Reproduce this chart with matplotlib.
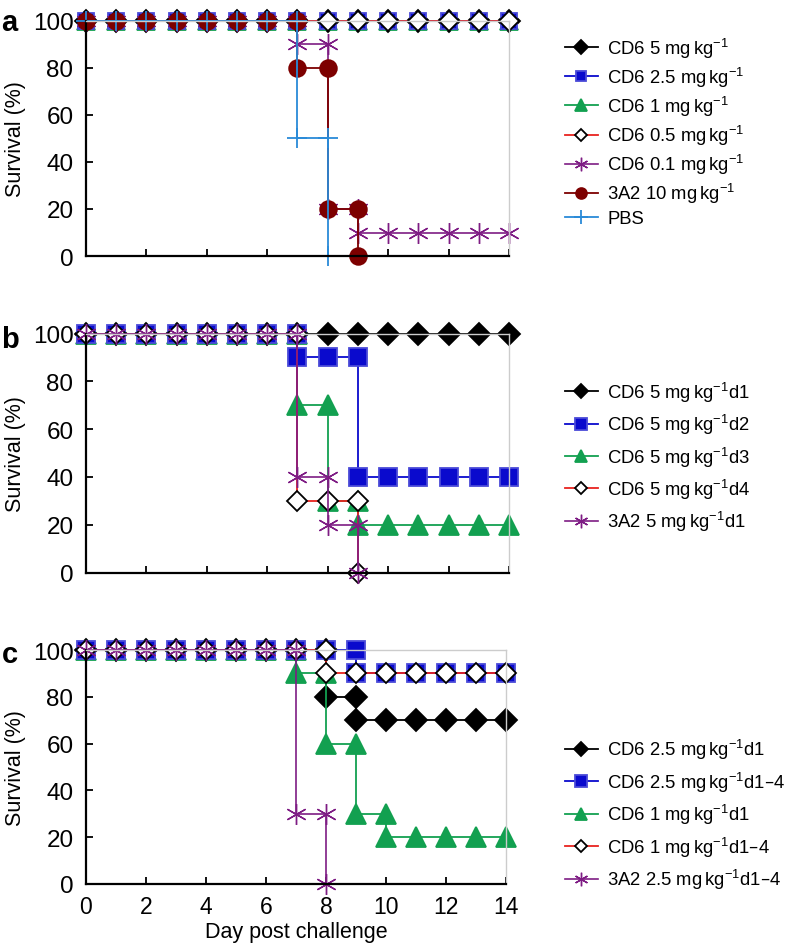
import matplotlib
matplotlib.use("Agg")
import matplotlib.pyplot as plt

plt.rcParams['font.family'] = ['Liberation Sans', 'DejaVu Sans']
plt.rcParams['mathtext.default'] = 'regular'

# ---- panel a ----
a_days = [0, 1, 2, 3, 4, 5, 6, 7, 8, 9, 10, 11, 12, 13, 14]
a_cd6_5 = [100, 100, 100, 100, 100, 100, 100, 100, 100, 100, 100, 100, 100, 100, 100]
a_cd6_25 = [100, 100, 100, 100, 100, 100, 100, 100, 100, 100, 100, 100, 100, 100, 100]
a_cd6_1 = [100, 100, 100, 100, 100, 100, 100, 100, 100, 100, 100, 100, 100, 100, 100]
a_cd6_05 = [100, 100, 100, 100, 100, 100, 100, 100, 100, 100, 100, 100, 100, 100, 100]
a_cd6_01_days = [0, 1, 2, 3, 4, 5, 6, 7, 7, 8, 8, 9, 9, 10, 11, 12, 13, 14]
a_cd6_01 = [100, 100, 100, 100, 100, 100, 100, 100, 90, 90, 20, 20, 10, 10, 10, 10, 10, 10]
a_3a2_days = [0, 1, 2, 3, 4, 5, 6, 7, 7, 8, 8, 9, 9]
a_3a2 = [100, 100, 100, 100, 100, 100, 100, 100, 80, 80, 20, 20, 0]
a_pbs_days = [0, 1, 2, 3, 4, 5, 6, 7, 7, 8, 8]
a_pbs = [100, 100, 100, 100, 100, 100, 100, 100, 50, 50, 0]

# ---- panel b ----
b_d1_days = [0, 1, 2, 3, 4, 5, 6, 7, 8, 9, 10, 11, 12, 13, 14]
b_d1 = [100, 100, 100, 100, 100, 100, 100, 100, 100, 100, 100, 100, 100, 100, 100]
b_d2_days = [0, 1, 2, 3, 4, 5, 6, 7, 7, 8, 9, 9, 10, 11, 12, 13, 14]
b_d2 = [100, 100, 100, 100, 100, 100, 100, 100, 90, 90, 90, 40, 40, 40, 40, 40, 40]
b_d3_days = [0, 1, 2, 3, 4, 5, 6, 7, 7, 8, 8, 9, 9, 10, 11, 12, 13, 14]
b_d3 = [100, 100, 100, 100, 100, 100, 100, 100, 70, 70, 30, 30, 20, 20, 20, 20, 20, 20]
b_d4_days = [0, 1, 2, 3, 4, 5, 6, 7, 7, 8, 9, 9]
b_d4 = [100, 100, 100, 100, 100, 100, 100, 100, 30, 30, 30, 0]
b_3a2_days = [0, 1, 2, 3, 4, 5, 6, 7, 7, 8, 8, 9, 9]
b_3a2 = [100, 100, 100, 100, 100, 100, 100, 100, 40, 40, 20, 20, 0]

# ---- panel c ----
c_25d1_days = [0, 1, 2, 3, 4, 5, 6, 7, 8, 8, 9, 9, 10, 11, 12, 13, 14]
c_25d1 = [100, 100, 100, 100, 100, 100, 100, 100, 100, 80, 80, 70, 70, 70, 70, 70, 70]
c_25d14_days = [0, 1, 2, 3, 4, 5, 6, 7, 8, 9, 9, 10, 11, 12, 13, 14]
c_25d14 = [100, 100, 100, 100, 100, 100, 100, 100, 100, 100, 90, 90, 90, 90, 90, 90]
c_1d1_days = [0, 1, 2, 3, 4, 5, 6, 7, 7, 8, 8, 9, 9, 10, 10, 11, 12, 13, 14]
c_1d1 = [100, 100, 100, 100, 100, 100, 100, 100, 90, 90, 60, 60, 30, 30, 20, 20, 20, 20, 20]
c_1d14_days = [0, 1, 2, 3, 4, 5, 6, 7, 8, 8, 9, 10, 11, 12, 13, 14]
c_1d14 = [100, 100, 100, 100, 100, 100, 100, 100, 100, 90, 90, 90, 90, 90, 90, 90]
c_3a2_days = [0, 1, 2, 3, 4, 5, 6, 7, 7, 8, 8]
c_3a2 = [100, 100, 100, 100, 100, 100, 100, 100, 30, 30, 0]

KG = r' mg$\,$kg$^{-1}$'

# colours / markers
BLACK = '#000000'
BLUE = '#0a0acd'
GREEN = '#12a050'
RED = '#e8231f'
PURPLE = '#7e1c84'
DRED = '#7d0000'
LBLUE = '#2a8ad8'
AST = (6, 2, 0)

fig = plt.figure(figsize=(7.88, 9.45), dpi=100)

def style_ax(ax, xlabels=False):
    ax.set_xlim(0, 14)
    ax.set_ylim(0, 100)
    ax.set_xticks([0, 2, 4, 6, 8, 10, 12, 14])
    ax.set_yticks([0, 20, 40, 60, 80, 100])
    ax.tick_params(direction='in', length=5, width=1.3, pad=8)
    ax.tick_params(axis='x', labelsize=16.5)
    ax.tick_params(axis='y', labelsize=17.5, pad=9)
    if not xlabels:
        ax.set_xticklabels([])
    for s in ['top', 'right']:
        ax.spines[s].set_color('#cccccc')
        ax.spines[s].set_linewidth(1.0)
    for s in ['left', 'bottom']:
        ax.spines[s].set_linewidth(1.6)
    ax.set_ylabel('Survival (%)', fontsize=15.5, labelpad=5)

def curve(ax, x, y, color, marker, label, mfc=None, mec=None, ms=11, lw=1.3, mew=1.3):
    ax.plot(x, y, color=color, marker=marker, ms=ms, lw=lw, label=label,
            mfc=mfc if mfc else color, mec=mec if mec else color,
            mew=mew, clip_on=False)

def add_legend(ax, order, y, spacing):
    h, l = ax.get_legend_handles_labels()
    ax.legend([h[i] for i in order], [l[i] for i in order], loc='upper left',
              bbox_to_anchor=(0.705, y), bbox_transform=fig.transFigure,
              frameon=False, fontsize=13.3, markerscale=0.65, handlelength=1.8,
              handletextpad=0.5, labelspacing=spacing, borderpad=0)

# panel a
axa = fig.add_axes([0.109, 0.728, 0.537, 0.249])
curve(axa, a_days, a_cd6_5, BLACK, 'D', 'CD6 5' + KG, ms=11)
curve(axa, a_days, a_cd6_1, GREEN, '^', 'CD6 1' + KG, ms=13)
curve(axa, a_days, a_cd6_25, BLUE, 's', 'CD6 2.5' + KG, mec='#4a4ad8', ms=12)
curve(axa, a_days, a_cd6_05, RED, 'D', 'CD6 0.5' + KG, mfc='white', mec=BLACK, ms=10)
curve(axa, a_cd6_01_days, a_cd6_01, PURPLE, AST, 'CD6 0.1' + KG, ms=15, lw=1.2, mew=1.0)
curve(axa, a_3a2_days, a_3a2, DRED, 'o', '3A2 10' + KG, ms=12)
curve(axa, a_pbs_days, a_pbs, LBLUE, '+', 'PBS', ms=15)
style_ax(axa)
add_legend(axa, [0, 2, 1, 3, 4, 5, 6], 0.971, 0.27)

# panel b
axb = fig.add_axes([0.109, 0.393, 0.537, 0.253])
curve(axb, b_d1_days, b_d1, BLACK, 'D', 'CD6 5' + KG + 'd1', ms=11)
curve(axb, b_d3_days, b_d3, GREEN, '^', 'CD6 5' + KG + 'd3', ms=14)
curve(axb, b_d2_days, b_d2, BLUE, 's', 'CD6 5' + KG + 'd2', mec='#4a4ad8', ms=13)
curve(axb, b_d4_days, b_d4, RED, 'D', 'CD6 5' + KG + 'd4', mfc='white', mec=BLACK, ms=10)
curve(axb, b_3a2_days, b_3a2, PURPLE, AST, '3A2 5' + KG + 'd1', ms=15, lw=1.2, mew=1.0)
style_ax(axb)
add_legend(axb, [0, 2, 1, 3, 4], 0.607, 0.45)

# panel c
axc = fig.add_axes([0.109, 0.0635, 0.533, 0.2475])
curve(axc, c_25d1_days, c_25d1, BLACK, 'D', 'CD6 2.5' + KG + 'd1', ms=11)
curve(axc, c_1d1_days, c_1d1, GREEN, '^', 'CD6 1' + KG + 'd1', ms=14)
curve(axc, c_25d14_days, c_25d14, BLUE, 's', 'CD6 2.5' + KG + 'd1\u20134', mec='#4a4ad8', ms=13)
curve(axc, c_1d14_days, c_1d14, RED, 'D', 'CD6 1' + KG + 'd1\u20134', mfc='white', mec=BLACK, ms=10)
curve(axc, c_3a2_days, c_3a2, PURPLE, AST, '3A2 2.5' + KG + 'd1\u20134', ms=15, lw=1.2, mew=1.0)
style_ax(axc, xlabels=True)
axc.set_xlabel('Day post challenge', fontsize=15.5, labelpad=2)
add_legend(axc, [0, 2, 1, 3, 4], 0.2285, 0.45)

for txt, y in [('a', 0.99), ('b', 0.655), ('c', 0.322)]:
    fig.text(0.002, y, txt, fontsize=21, fontweight='bold', va='top', ha='left')

fig.savefig('out.png', dpi=100)
